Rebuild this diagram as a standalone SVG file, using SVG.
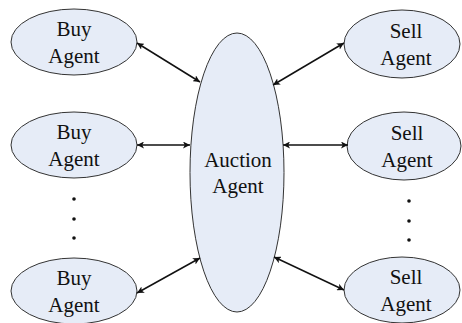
<svg xmlns="http://www.w3.org/2000/svg" width="462" height="323" viewBox="0 0 462 323">
<defs>
<style>
.n{fill:#e6ecf7;stroke:#333;stroke-width:1}
.t{font-family:"Liberation Serif","Times New Roman",serif;font-size:21px;fill:#111;text-anchor:middle}
.c{stroke:#111;stroke-width:1.5;fill:none;marker-start:url(#a);marker-end:url(#a)}
.d{fill:#111}
</style>
<marker id="a" viewBox="0 0 10 10" refX="10" refY="5" markerWidth="7" markerHeight="7" orient="auto-start-reverse" markerUnits="userSpaceOnUse">
<path d="M0,0 L10,5 L0,10 L2.5,5 Z" fill="#111"/>
</marker>
</defs>
<rect width="462" height="323" fill="#fff"/>
<g id="auction"><ellipse class="n" cx="237" cy="172.5" rx="47" ry="139.5"/><text class="t" x="238" y="167">Auction</text><text class="t" x="238" y="193">Agent</text></g>
<g id="buy1"><ellipse class="n" cx="74" cy="42" rx="63" ry="33"/><text class="t" x="74" y="36">Buy</text><text class="t" x="74" y="63">Agent</text></g>
<g id="buy2"><ellipse class="n" cx="74" cy="145" rx="63" ry="33"/><text class="t" x="74" y="139">Buy</text><text class="t" x="74" y="166">Agent</text></g>
<g id="buy3"><ellipse class="n" cx="74" cy="291" rx="63" ry="33"/><text class="t" x="74" y="285">Buy</text><text class="t" x="74" y="312">Agent</text></g>
<g id="sell1"><ellipse class="n" cx="402" cy="44" rx="58" ry="34"/><text class="t" x="406" y="38">Sell</text><text class="t" x="406" y="65">Agent</text></g>
<g id="sell2"><ellipse class="n" cx="404" cy="146" rx="57" ry="34"/><text class="t" x="407" y="140">Sell</text><text class="t" x="407" y="167">Agent</text></g>
<g id="sell3"><ellipse class="n" cx="402" cy="290" rx="58" ry="33"/><text class="t" x="406" y="284">Sell</text><text class="t" x="406" y="311">Agent</text></g>
<g id="dots">
<circle class="d" cx="74" cy="199" r="1.8"/><circle class="d" cx="74" cy="219" r="1.8"/><circle class="d" cx="74" cy="238" r="1.8"/>
<circle class="d" cx="409" cy="201" r="1.8"/><circle class="d" cx="409" cy="221" r="1.8"/><circle class="d" cx="409" cy="240" r="1.8"/>
</g>
<g id="connectors">
<line class="c" x1="137" y1="43" x2="200" y2="82"/>
<line class="c" x1="137" y1="145" x2="190" y2="145"/>
<line class="c" x1="137" y1="293" x2="200" y2="258"/>
<line class="c" x1="344" y1="43" x2="273" y2="85"/>
<line class="c" x1="348" y1="145" x2="283" y2="145"/>
<line class="c" x1="344" y1="290" x2="274" y2="257"/>
</g>
</svg>
